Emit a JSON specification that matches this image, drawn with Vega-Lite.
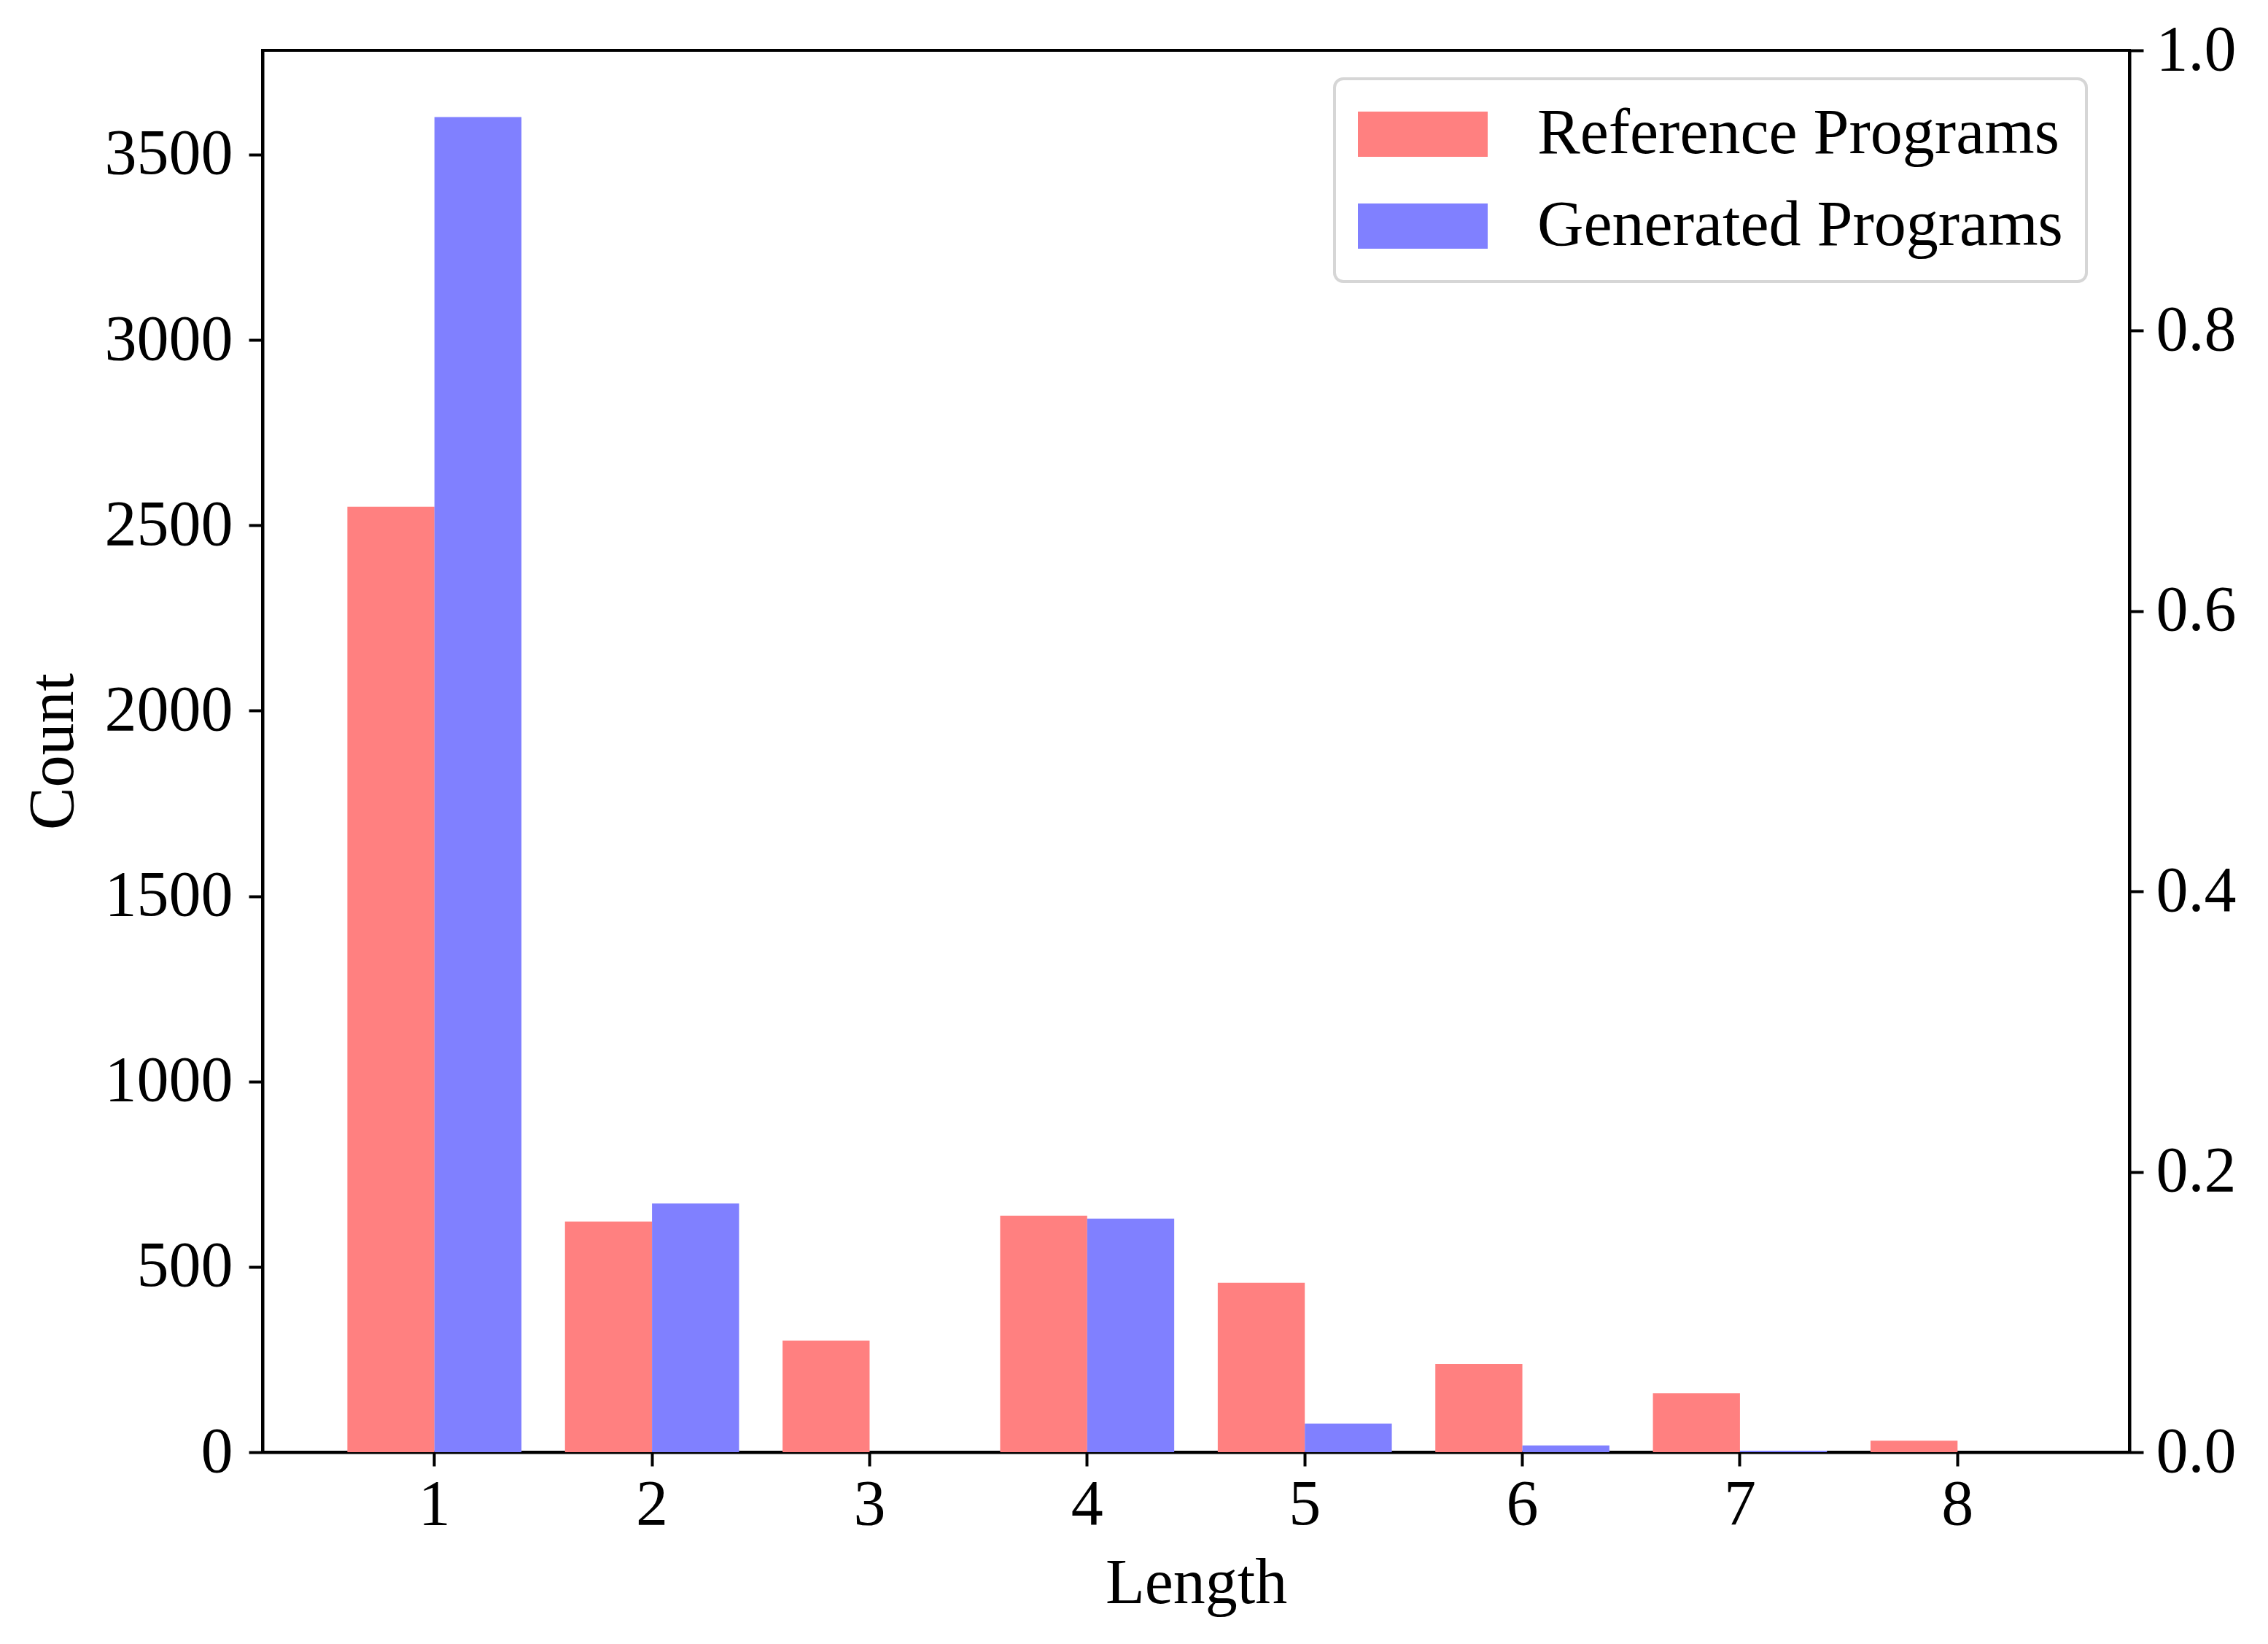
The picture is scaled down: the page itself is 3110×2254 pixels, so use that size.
{
  "$schema": "https://vega.github.io/schema/vega-lite/v6.json",
  "width": 2560,
  "height": 1922,
  "autosize": {"type": "none"},
  "padding": {"left": 360, "top": 69, "right": 190, "bottom": 263},
  "background": "white",
  "config": {
    "font": "Liberation Serif",
    "view": {"stroke": "black", "strokeWidth": 4},
    "axis": {
      "labelFont": "Liberation Serif",
      "titleFont": "Liberation Serif",
      "labelFontSize": 88,
      "titleFontSize": 88,
      "titleFontWeight": "normal",
      "labelColor": "black",
      "titleColor": "black",
      "tickColor": "black",
      "domainColor": "black",
      "domainWidth": 4,
      "tickWidth": 4,
      "tickSize": 19,
      "grid": false,
      "labelLimit": 0,
      "labelPadding": 22
    }
  },
  "data": {
    "values": [
      {"length": 1, "series": "Reference Programs", "count": 2550},
      {"length": 2, "series": "Reference Programs", "count": 622},
      {"length": 3, "series": "Reference Programs", "count": 301},
      {"length": 4, "series": "Reference Programs", "count": 638},
      {"length": 5, "series": "Reference Programs", "count": 457},
      {"length": 6, "series": "Reference Programs", "count": 238},
      {"length": 7, "series": "Reference Programs", "count": 159},
      {"length": 8, "series": "Reference Programs", "count": 31},
      {"length": 1, "series": "Generated Programs", "count": 3601},
      {"length": 2, "series": "Generated Programs", "count": 671},
      {"length": 3, "series": "Generated Programs", "count": 0},
      {"length": 4, "series": "Generated Programs", "count": 630},
      {"length": 5, "series": "Generated Programs", "count": 77},
      {"length": 6, "series": "Generated Programs", "count": 18},
      {"length": 7, "series": "Generated Programs", "count": 4},
      {"length": 8, "series": "Generated Programs", "count": 0}
    ]
  },
  "layer": [
    {
      "mark": {"type": "bar"},
      "encoding": {
        "x": {
          "field": "length",
          "type": "ordinal",
          "scale": {"paddingInner": 0.2, "paddingOuter": 0.39},
          "axis": {"title": "Length", "labelAngle": 0, "labelPadding": 9, "titlePadding": 20}
        },
        "xOffset": {
          "field": "series",
          "type": "nominal",
          "scale": {"domain": ["Reference Programs", "Generated Programs"], "paddingInner": 0, "paddingOuter": 0}
        },
        "y": {
          "field": "count",
          "type": "quantitative",
          "scale": {"domain": [0, 3781], "nice": false},
          "axis": {"title": "Count", "format": "d", "values": [0, 500, 1000, 1500, 2000, 2500, 3000, 3500], "titlePadding": 43}
        },
        "color": {
          "field": "series",
          "type": "nominal",
          "scale": {"domain": ["Reference Programs", "Generated Programs"], "range": ["#ff8080", "#8080ff"]},
          "legend": {
            "orient": "none",
            "legendX": 1470,
            "legendY": 39,
            "title": null,
            "labelFont": "Liberation Serif",
            "labelFontSize": 88,
            "labelColor": "black",
            "labelLimit": 0,
            "symbolType": "M-1,-0.705H3.045V0.705H-1Z",
            "symbolSize": 7744,
            "symbolStrokeWidth": 0,
            "symbolOpacity": 1,
            "fillColor": "white",
            "strokeColor": "#d6d6d6",
            "cornerRadius": 12,
            "padding": 32,
            "rowPadding": 38,
            "labelOffset": 158,
            "encode": {"legend": {"update": {"strokeWidth": {"value": 4}}}}
          }
        }
      }
    },
    {
      "mark": {"type": "rule", "opacity": 0},
      "encoding": {
        "y": {
          "datum": 0,
          "type": "quantitative",
          "scale": {"domain": [0, 1], "nice": false},
          "axis": {"orient": "right", "values": [0, 0.2, 0.4, 0.6, 0.8, 1], "format": ".1f", "title": null, "labelPadding": 17}
        }
      }
    }
  ],
  "resolve": {"scale": {"y": "independent"}}
}
